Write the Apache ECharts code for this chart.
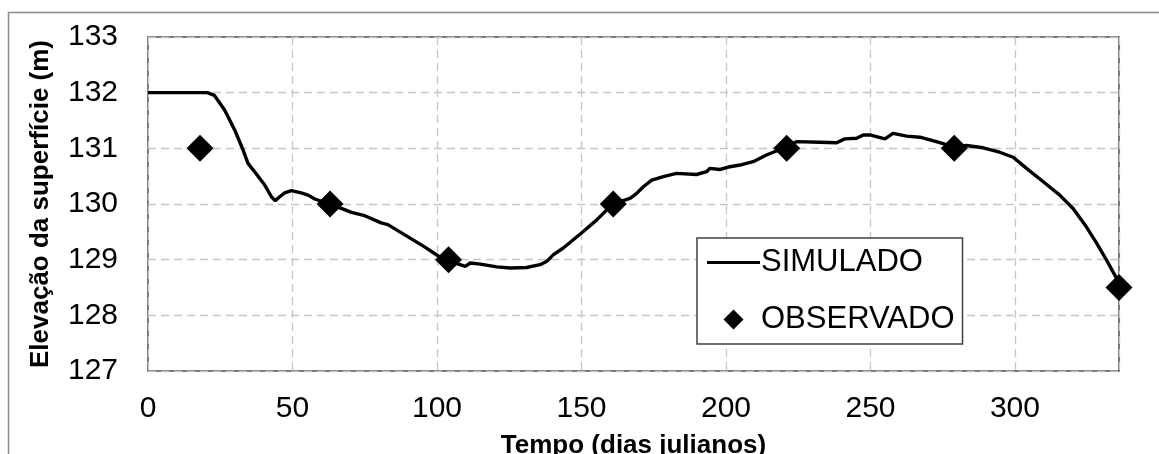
<!DOCTYPE html>
<html>
<head>
<meta charset="utf-8">
<script src="https://cdn.jsdelivr.net/npm/echarts@6/dist/echarts.min.js"></script>
<style>
  html, body { margin: 0; padding: 0; background: #fff; }
  #chart { width: 1159px; height: 454px; }
</style>
</head>
<body>
<div id="chart"></div>
<script>
// Simulated surface elevation (day, m)
const simDays = [0, 10, 20.5, 23, 26.5, 30, 32.9, 34.6, 36.9, 40.4, 42.7, 44, 45.6, 47.3, 49.6, 53, 55.4, 57.7,
  62.9, 66.9, 70.4, 75, 80.7, 83, 90, 95.7, 101.5, 104, 108, 109.8, 111.5, 115, 120.7, 125.3, 131, 135.7,
  138, 140.3, 143.7, 150, 155.2, 160.8, 166.8, 169.1, 171.4, 174.3, 178.3, 182.9, 189.8, 193.3, 194.4,
  197.9, 201.4, 204.8, 209.4, 214, 220.7, 224.4, 232.5, 238.3, 241.1, 245.2, 247.5, 249.8, 255, 257.8,
  262.5, 267.1, 272.8, 278.6, 283.2, 289, 294.7, 299.4, 304, 309.8, 315.5, 320.1, 324.7, 328.2, 331.6,
  335.1, 336];
const simValues = [132.0, 132.0, 132.0, 131.95, 131.69, 131.33, 130.97, 130.73, 130.58, 130.34, 130.13, 130.06,
  130.13, 130.2, 130.24, 130.2, 130.16, 130.09, 130.0, 129.92, 129.85, 129.79, 129.66, 129.63, 129.41,
  129.23, 129.03, 128.98, 128.91, 128.88, 128.94, 128.92, 128.87, 128.85, 128.86, 128.91, 128.97, 129.09,
  129.21, 129.48, 129.71, 130.0, 130.1, 130.19, 130.31, 130.43, 130.49, 130.55, 130.53, 130.58, 130.64,
  130.62, 130.67, 130.7, 130.76, 130.88, 131.02, 131.12, 131.11, 131.1, 131.17, 131.18, 131.24, 131.24,
  131.17, 131.27, 131.22, 131.2, 131.12, 131.03, 131.05, 131.01, 130.93, 130.84, 130.64, 130.4, 130.16,
  129.92, 129.59, 129.3, 129.0, 128.67, 128.55];

// Observed surface elevation (day, m)
const obsDays = [18, 63, 104, 161, 221, 279, 336];
const obsValues = [131, 130, 129, 130, 131, 131, 128.5];

const seriesNames = ['SIMULADO', 'OBSERVADO'];
const xTitle = 'Tempo (dias julianos)';
const yTitle = 'Elevação da superfície (m)';

const FONT = "'Liberation Sans', Arial, sans-serif";

const chart = echarts.init(document.getElementById('chart'), null, { renderer: 'canvas' });

chart.setOption({
  backgroundColor: '#ffffff',
  animation: false,
  graphic: [{
    type: 'rect',
    z: -10,
    shape: { x: 8.5, y: 12.5, width: 1300, height: 600 },
    style: { fill: 'none', stroke: '#8a8a8a', lineWidth: 1.5 }
  }],
  grid: {
    left: 148, right: 40, top: 37, bottom: 83,
    outerBoundsMode: 'none',
    containLabel: false,
    show: true, borderColor: '#505050', borderWidth: 1.5, backgroundColor: 'transparent'
  },
  legend: {
    orient: 'vertical',
    left: 697, top: 238,
    padding: [9, 8, 9, 10],
    itemWidth: 53, itemHeight: 20, itemGap: 26,
    borderColor: '#404040', borderWidth: 1.5,
    backgroundColor: '#ffffff',
    selectedMode: false,
    symbolKeepAspect: true,
    textStyle: { fontFamily: FONT, fontSize: 31, color: '#000', lineHeight: 31, padding: [0, 0, 0, -4] },
    data: [
      // thin bar icon standing in for the line sample
      { name: seriesNames[0], icon: 'path://M0,0H53V3.2H0Z', itemStyle: { color: '#000' } },
      { name: seriesNames[1], icon: 'path://M0,-1L1,0L0,1L-1,0Z', itemStyle: { color: '#000', opacity: 1 } }
    ]
  },
  xAxis: {
    type: 'value',
    min: 0, max: 336, interval: 50,
    name: xTitle,
    nameLocation: 'middle',
    nameGap: 62,
    nameTextStyle: { fontFamily: FONT, fontSize: 26, fontWeight: 'bold', color: '#000' },
    axisLine: { show: false },
    axisTick: { show: false },
    axisLabel: { fontFamily: FONT, fontSize: 30, color: '#000', margin: 23, showMaxLabel: false },
    splitLine: { show: true, lineStyle: { color: '#c6c6c6', width: 1.3, type: [8, 5] } }
  },
  yAxis: {
    type: 'value',
    min: 127, max: 133, interval: 1,
    name: yTitle,
    nameLocation: 'middle',
    nameGap: 94,
    nameTextStyle: { fontFamily: FONT, fontSize: 26, fontWeight: 'bold', color: '#000' },
    axisLine: { show: false },
    axisTick: { show: false },
    axisLabel: { fontFamily: FONT, fontSize: 30, color: '#000', margin: 30 },
    splitLine: { show: true, lineStyle: { color: '#c6c6c6', width: 1.3, type: [8, 5] } }
  },
  series: [
    {
      name: seriesNames[0],
      type: 'line',
      data: simDays.map((d, i) => [d, simValues[i]]),
      symbol: 'none',
      smooth: false,
      lineStyle: { color: '#000', width: 3.4 },
      itemStyle: { color: '#000' },
      z: 2
    },
    {
      name: seriesNames[1],
      type: 'scatter',
      data: obsDays.map((d, i) => [d, obsValues[i]]),
      symbol: 'diamond',
      symbolSize: 27,
      itemStyle: { color: '#000', opacity: 1 },
      z: 3
    }
  ]
});
</script>
</body>
</html>
